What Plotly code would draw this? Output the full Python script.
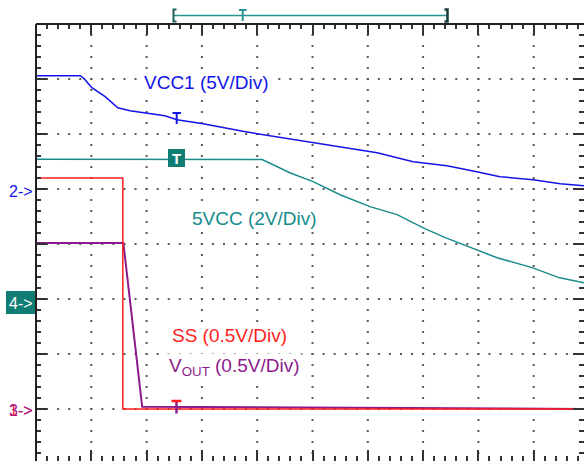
import plotly.graph_objects as go

# ---------------- data (time in horizontal divisions, values in volts) ----------------
vcc1_t = [0.00, 0.80, 0.87, 1.01, 1.25, 1.48, 1.70, 2.06, 2.33, 2.55, 3.02, 3.74, 4.72,
          5.37, 6.17, 6.82, 7.43, 7.97, 8.39, 8.99, 9.48, 9.91, 10.0]
vcc1_v = [10.30, 10.30, 10.03, 9.21, 8.39, 7.39, 7.12, 6.85, 6.66, 6.30, 5.94, 5.24, 4.48,
          3.94, 3.30, 2.48, 2.12, 1.57, 1.12, 0.85, 0.48, 0.30, 0.25]

v5cc_t = [0.00, 4.09, 4.59, 5.01, 5.50, 6.04, 6.53, 7.03, 7.40, 7.97, 8.34, 8.97, 9.47, 9.91, 10.0]
v5cc_v = [5.08, 5.07, 4.59, 4.27, 3.79, 3.36, 3.07, 2.56, 2.23, 1.79, 1.50, 1.14, 0.77, 0.59, 0.55]

ss_t = [0.00, 1.57, 1.57, 10.0]
ss_v = [2.10, 2.10, 0.00, 0.00]

vout_t = [0.00, 1.58, 1.92, 10.0]
vout_v = [1.51, 1.51, 0.02, 0.00]

# channel settings: ground position (divisions from bottom) and volts per division
channels = {
    "VCC1": dict(t=vcc1_t, v=vcc1_v, gnd=5.0, vdiv=5.0, color="#1414e6", width=1.5),
    "5VCC": dict(t=v5cc_t, v=v5cc_v, gnd=3.0, vdiv=2.0, color="#1a8c8c", width=1.5),
    "VOUT": dict(t=vout_t, v=vout_v, gnd=1.0, vdiv=0.5, color="#8c1a8c", width=2),
    "SS":   dict(t=ss_t, v=ss_v, gnd=1.0, vdiv=0.5, color="#ff1e1e", width=1.5),
}

# ---------------- layout constants ----------------
W, H = 584, 461
L, T = 36, 24
PXX, PXY = 55.3, 55.0
Y0 = 464.0


def dx(px):
    return (px - L) / PXX


def dy(py):
    return (Y0 - py) / PXY


def pxp(px):
    return (px - L) / (W - L)


def pyp(py):
    return (H - py) / (H - T)


fig = go.Figure()

# dotted graticule
gx, gy = [], []
for i in range(1, 10):
    for j in range(0, 41):
        gx.append(i)
        gy.append(j * 0.2)
for j in range(1, 8):
    for i in range(0, 51):
        gx.append(i * 0.2)
        gy.append(j)
fig.add_trace(go.Scatter(x=gx, y=gy, mode="markers", hoverinfo="skip", showlegend=False,
                         marker=dict(symbol="square", size=2, color="#5a5a5a", line=dict(width=0))))

for name, ch in channels.items():
    fig.add_trace(go.Scatter(
        x=ch["t"], y=[ch["gnd"] + v / ch["vdiv"] for v in ch["v"]],
        mode="lines", name=name, showlegend=False,
        line=dict(color=ch["color"], width=ch["width"])))

tick_common = dict(ticks="inside", ticklen=11, tickwidth=2, tickcolor="#333333",
                   showticklabels=False, showgrid=False, zeroline=False, showline=False,
                   mirror="ticks", dtick=1, tick0=0,
                   minor=dict(ticks="inside", ticklen=5, tickwidth=1.5, tickcolor="#333333",
                              dtick=0.2, tick0=0, showgrid=False))

fig.update_xaxes(range=[0, (W - L) / PXX], **tick_common)
fig.update_yaxes(range=[(Y0 - H) / PXY, (Y0 - T) / PXY], **tick_common)

shapes = []
# frame (left and top)
shapes.append(dict(type="line", xref="paper", yref="paper", x0=0, x1=0, y0=0, y1=1,
                   line=dict(color="#222222", width=2)))
shapes.append(dict(type="line", xref="paper", yref="paper", x0=0, x1=1, y0=1, y1=1,
                   line=dict(color="#222222", width=2)))

# top trigger bracket
teal = "#2a9393"
shapes.append(dict(type="line", xref="paper", yref="paper", x0=pxp(174), x1=pxp(447),
                   y0=pyp(15.5), y1=pyp(15.5), line=dict(color=teal, width=1.5)))
shapes.append(dict(type="path", xref="paper", yref="paper",
                   path=f"M {pxp(176.5)},{pyp(9.5)} L {pxp(173.5)},{pyp(9.5)} L {pxp(173.5)},{pyp(21.5)} L {pxp(176.5)},{pyp(21.5)}",
                   line=dict(color="#1f5f5f", width=2)))
shapes.append(dict(type="path", xref="paper", yref="paper",
                   path=f"M {pxp(444.5)},{pyp(9.5)} L {pxp(447.5)},{pyp(9.5)} L {pxp(447.5)},{pyp(21.5)} L {pxp(444.5)},{pyp(21.5)}",
                   line=dict(color="#183c3c", width=2.5)))
shapes.append(dict(type="line", xref="paper", yref="paper", x0=pxp(239), x1=pxp(246.5),
                   y0=pyp(10), y1=pyp(10), line=dict(color=teal, width=2)))
shapes.append(dict(type="line", xref="paper", yref="paper", x0=pxp(242.7), x1=pxp(242.7),
                   y0=pyp(10), y1=pyp(21), line=dict(color=teal, width=2)))

# trigger markers on traces
shapes.append(dict(type="line", xref="x", yref="y", x0=dx(172.5), x1=dx(181), y0=dy(113), y1=dy(113),
                   line=dict(color="#1414e6", width=2)))
shapes.append(dict(type="line", xref="x", yref="y", x0=dx(176.7), x1=dx(176.7), y0=dy(113), y1=dy(124),
                   line=dict(color="#1414e6", width=2)))
shapes.append(dict(type="line", xref="x", yref="y", x0=dx(176.5), x1=dx(176.5), y0=dy(401), y1=dy(413.5),
                   line=dict(color="#8c1a8c", width=2.5)))
shapes.append(dict(type="line", xref="x", yref="y", x0=dx(171.5), x1=dx(181.5), y0=dy(401), y1=dy(401),
                   line=dict(color="#ff1e1e", width=2.5)))
shapes.append(dict(type="rect", xref="x", yref="y", x0=dx(168), x1=dx(185), y0=dy(149), y1=dy(167),
                   fillcolor="#0f7d74", line=dict(width=0)))
# channel 4 ground marker box
shapes.append(dict(type="rect", xref="paper", yref="paper", x0=pxp(6), x1=pxp(35), y0=pyp(291), y1=pyp(314),
                   fillcolor="#0f7d74", line=dict(width=0)))

fig.update_layout(shapes=shapes)

FONT = "Liberation Sans, Arial, sans-serif"
ann = []


def label(text, px, py, color, size, anchor="left", bold=False, ref="paper", bg=None):
    if ref == "paper":
        x, y = pxp(px), pyp(py)
    else:
        x, y = dx(px), dy(py)
    a = dict(text=f"<b>{text}</b>" if bold else text, x=x, y=y,
             xref="paper" if ref == "paper" else "x",
             yref="paper" if ref == "paper" else "y",
             xanchor=anchor, yanchor="middle", showarrow=False,
             font=dict(family=FONT, size=size, color=color))
    if bg:
        a["bgcolor"] = bg
    ann.append(a)


label("VCC1 (5V/Div)", 141.5, 82, "#1414e6", 19, bg="white")
label("5VCC (2V/Div)", 190, 218, "#148c8c", 19, bg="white")
label("SS (0.5V/Div)", 170, 335, "#ff1e1e", 19, bg="white")
label("V<sub>OUT</sub> (0.5V/Div)", 166.5, 367, "#8c1a8c", 19, bg="white")
label("2->", 6.5, 191, "#1414e6", 16)
label("4->", 6.5, 303, "#ffffff", 16)
label("1->", 6.5, 410, "#ff1e1e", 16)
label("3->", 6.5, 410, "#a0168c", 16)
label("T", 176.5, 158.5, "#ffffff", 15, anchor="center", bold=True, ref="xy")

fig.update_layout(annotations=ann, width=W, height=H,
                  margin=dict(l=L, r=0, t=T, b=0, pad=0),
                  paper_bgcolor="white", plot_bgcolor="white", showlegend=False)

fig.write_html("out.html")
